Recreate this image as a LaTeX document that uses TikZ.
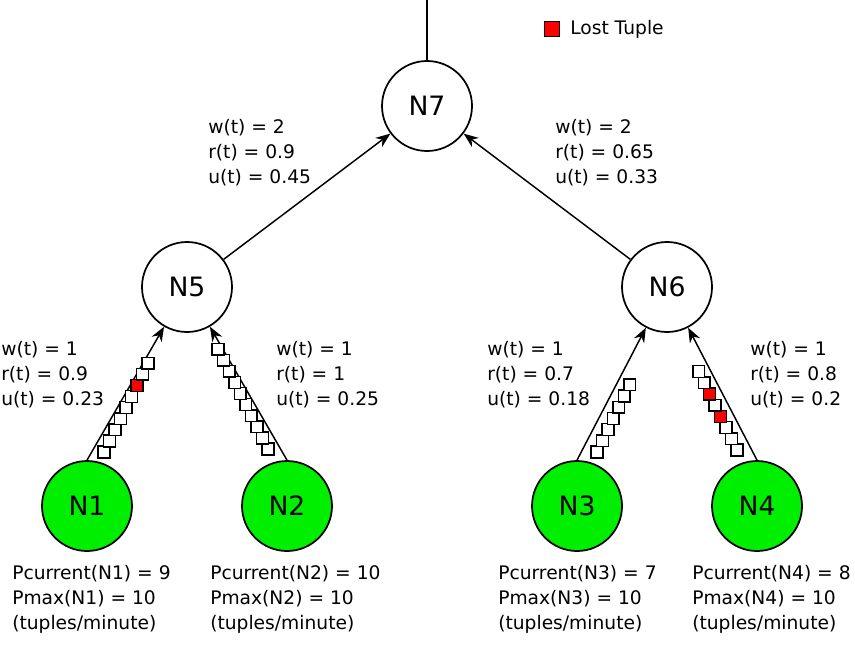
\documentclass[tikz,border=0pt]{standalone}
\usepackage{fontspec}
\setmainfont{DejaVu Sans}
\usetikzlibrary{arrows.meta}
\definecolor{nodegreen}{RGB}{0,238,0}

\begin{document}
\begin{tikzpicture}[x=0.75pt,y=-0.75pt,
   every node/.style={font=\fontsize{14}{18.75}\selectfont},
   op/.style={draw,circle,line width=1.3pt,minimum size=67.5pt,inner sep=0pt,
      font=\fontsize{20}{24}\selectfont},
   src/.style={op,fill=nodegreen},
   flow/.style={-{Stealth[length=11pt,width=8.5pt,inset=3.5pt]},line width=1.1pt},
   tuple/.style={draw,line width=1.1pt,minimum size=8.8pt,inner sep=0pt},
   info/.style={anchor=west,align=left,inner sep=0pt}]
\useasboundingbox (0,0) rectangle (855,646);

% operators and sources
\node[op] (n7) at (427,106) {N7};
\node[op] (n5) at (187,287) {N5};
\node[op] (n6) at (667,287) {N6};
\node[src] (n1) at (87,506) {N1};
\node[src] (n2) at (287,506) {N2};
\node[src] (n3) at (577,506) {N3};
\node[src] (n4) at (757,506) {N4};

% streams
\coordinate (out) at (427,0);
\draw[line width=1.1pt] (out) -- (n7);
\draw[flow] (n5) -- (n7);
\draw[flow] (n6) -- (n7);
\draw[flow] (n1.north) -- (n5);
\draw[flow] (n2.north) -- (n5);
\draw[flow] (n3.north) -- (n6);
\draw[flow] (n4.north) -- (n6);

% tuples in flight
\foreach \c [count=\i from 0] in {white,white,white,white,white,white,red,white,white}
  \node[tuple,fill=\c] (ta\i) at ({104+5.5*\i},{452-11.1*\i}) {};
\foreach \c [count=\i from 0] in {white,white,white,white,white,white,white,white,white,white}
  \node[tuple,fill=\c] (tb\i) at ({268-5.55*\i},{449-11.1*\i}) {};
\foreach \c [count=\i from 0] in {white,white,white,white,white,white,white}
  \node[tuple,fill=\c] (tc\i) at ({597+5.45*\i},{452-11.2*\i}) {};
\foreach \c [count=\i from 0] in {white,white,white,red,white,red,white,white}
  \node[tuple,fill=\c] (td\i) at ({737-5.48*\i},{450-11.2*\i}) {};

% legend
\node[tuple,fill=red,minimum size=11pt] (key) at (552,29) {};
\node[anchor=west,inner sep=0pt] (keylabel) at (570,29) {Lost Tuple};

% stream statistics
\node[info] (s57) at (208,153) {w(t) = 2\\r(t) = 0.9\\u(t) = 0.45};
\node[info] (s67) at (555,153) {w(t) = 2\\r(t) = 0.65\\u(t) = 0.33};
\node[info] (s15) at (1,375) {w(t) = 1\\r(t) = 0.9\\u(t) = 0.23};
\node[info] (s25) at (276,375) {w(t) = 1\\r(t) = 1\\u(t) = 0.25};
\node[info] (s36) at (487,375) {w(t) = 1\\r(t) = 0.7\\u(t) = 0.18};
\node[info] (s46) at (750,375) {w(t) = 1\\r(t) = 0.8\\u(t) = 0.2};

% source rates
\node[info] (p1) at (12,599) {Pcurrent(N1) = 9\\Pmax(N1) = 10\\(tuples/minute)};
\node[info] (p2) at (210,599) {Pcurrent(N2) = 10\\Pmax(N2) = 10\\(tuples/minute)};
\node[info] (p3) at (498,599) {Pcurrent(N3) = 7\\Pmax(N3) = 10\\(tuples/minute)};
\node[info] (p4) at (692,599) {Pcurrent(N4) = 8\\Pmax(N4) = 10\\(tuples/minute)};
\end{tikzpicture}
\end{document}
